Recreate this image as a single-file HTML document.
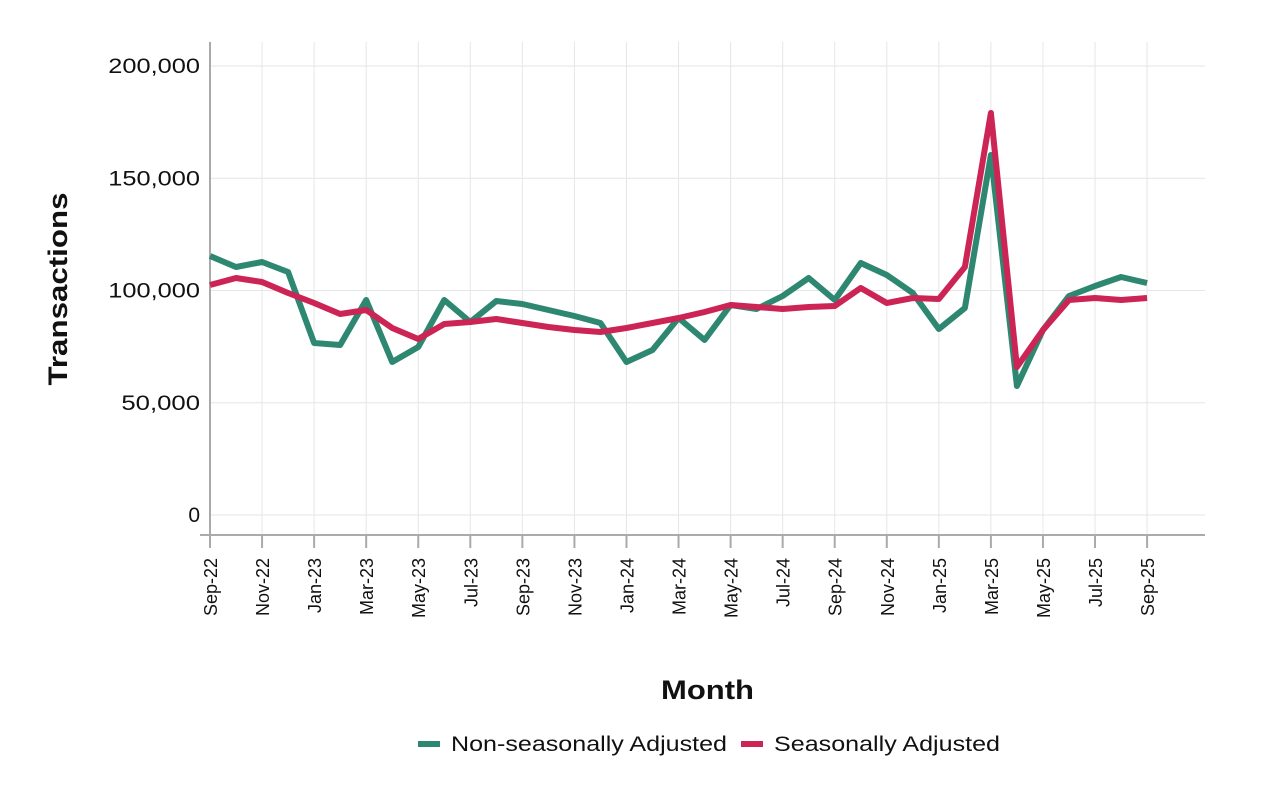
<!DOCTYPE html>
<html><head><meta charset="utf-8"><style>body{margin:0;background:#fff}svg{display:block}text{font-family:"Liberation Sans",sans-serif;fill:#111}</style></head><body>
<svg width="1280" height="790" xmlns="http://www.w3.org/2000/svg">
<g id="grid" stroke="#e6e6e6" stroke-width="1"></g>
<line x1="210" y1="42" x2="210" y2="535" stroke="#aaa" stroke-width="2"/>
<line x1="200" y1="535" x2="1205" y2="535" stroke="#aaa" stroke-width="2"/>
<g id="yl" font-size="21" text-anchor="end"></g>
<g id="xl" font-size="18"></g>
<text x="0" y="0" font-size="27" font-weight="bold" text-anchor="middle" textLength="193" lengthAdjust="spacingAndGlyphs" transform="translate(67,289) rotate(-90)">Transactions</text>
<text x="661" y="699" font-size="27" font-weight="bold" textLength="93" lengthAdjust="spacingAndGlyphs">Month</text>
<polyline id="g" fill="none" stroke="#2e8770" stroke-width="6" stroke-linejoin="round"/>
<polyline id="r" fill="none" stroke="#cc2455" stroke-width="6" stroke-linejoin="round"/>
<line x1="418" y1="744" x2="440" y2="744" stroke="#2e8770" stroke-width="6"/>
<text x="451" y="751" font-size="21" textLength="276" lengthAdjust="spacingAndGlyphs">Non-seasonally Adjusted</text>
<line x1="741" y1="744" x2="763" y2="744" stroke="#cc2455" stroke-width="6"/>
<text x="774" y="751" font-size="21" textLength="226" lengthAdjust="spacingAndGlyphs">Seasonally Adjusted</text>
</svg>
<script>
const ns="http://www.w3.org/2000/svg",X=i=>210+i*26.03;
const grid=document.getElementById('grid'),yl=document.getElementById('yl'),xl=document.getElementById('xl');
function el(t,a,p,tx){const e=document.createElementNS(ns,t);for(const k in a)e.setAttribute(k,a[k]);if(tx)e.textContent=tx;p.appendChild(e);}
["0","50,000","100,000","150,000","200,000"].forEach((s,i)=>{const y=515-i*112.25;el('line',{x1:210,x2:1205,y1:y,y2:y},grid);const a={x:200,y:y+7};if(s.length>1){a.textLength=s.length*13.1;a.lengthAdjust='spacingAndGlyphs';}el('text',a,yl,s);});
const m=["Sep-22","Nov-22","Jan-23","Mar-23","May-23","Jul-23","Sep-23","Nov-23","Jan-24","Mar-24","May-24","Jul-24","Sep-24","Nov-24","Jan-25","Mar-25","May-25","Jul-25","Sep-25"];
m.forEach((s,i)=>{const x=X(i*2);el('line',{x1:x,x2:x,y1:42,y2:535},grid);el('line',{x1:x,x2:x,y1:535,y2:548,stroke:'#aaa','stroke-width':2},xl);el('text',{x:0,y:0,'text-anchor':'end',transform:`translate(${x+7},558) rotate(-90)`},xl,s);});
const g=[256,267,262,272,343,345,300,362,347,300,322,301,304,310,316,323,362,350,318,340,305,309,296,278,300,263,275,293,329,308,155,386,330,296,286,277,283];
const r=[285,278,282,293,303,314,310,328,339,324,322,319,323,327,330,332,328,323,318,312,305,307,309,307,306,288,303,298,299,267,113,367,330,300,298,300,298];
document.getElementById('g').setAttribute('points',g.map((y,i)=>X(i)+','+y).join(' '));
document.getElementById('r').setAttribute('points',r.map((y,i)=>X(i)+','+y).join(' '));
</script>
</body></html>
